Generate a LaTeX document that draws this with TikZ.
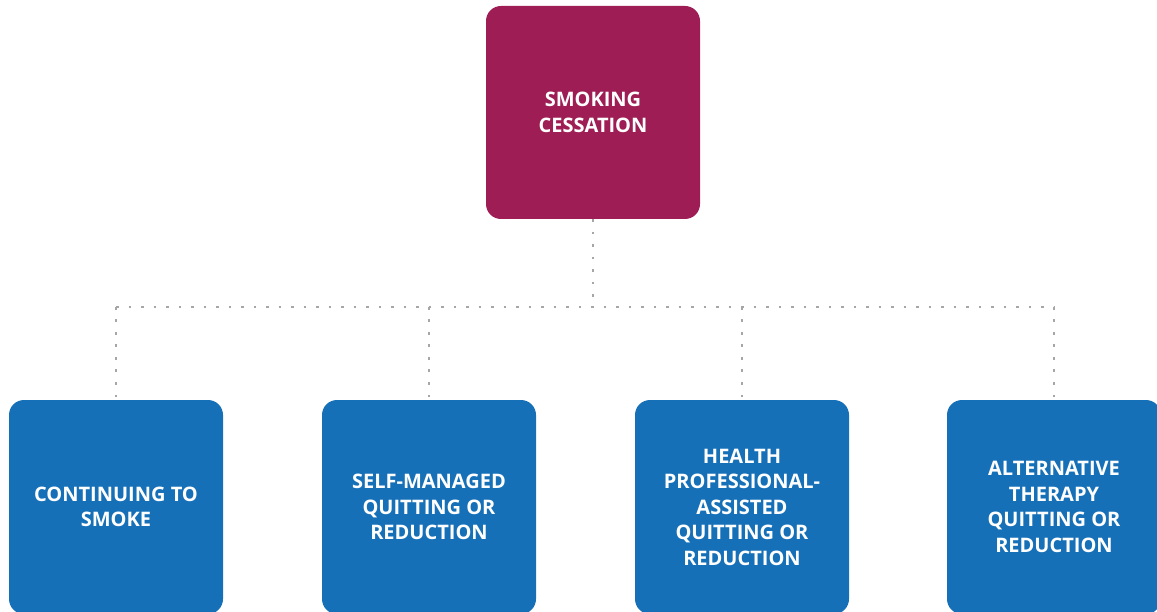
\documentclass[tikz,border=0pt]{standalone}
\usepackage{fontspec}
\setmainfont{Open Sans}
\begin{document}
\begin{tikzpicture}[x=1pt,y=-1pt,
  box/.style={rounded corners=15pt, text=white, inner sep=0pt,
    minimum width=214pt, minimum height=214pt,
    font=\bfseries\fontsize{20}{25.5}\selectfont, align=center},
  topbox/.style={box, fill=cessation, minimum height=213pt},
  leafbox/.style={box, fill=outcome},
  link/.style={draw=dotgray, line width=2.8pt, dash pattern=on 2.8pt off 9.7pt}
]
\definecolor{cessation}{HTML}{9E1D54}
\definecolor{outcome}{HTML}{1670B8}
\definecolor{dotgray}{HTML}{A6A6A6}
\useasboundingbox (0,0) rectangle (1157,612);

% root and the four outcomes
\node[topbox]  (top) at (593,112.5) {SMOKING\\CESSATION};
\node[leafbox] (a) at (116,507)  {CONTINUING TO\\SMOKE};
\node[leafbox] (b) at (429,507)  {SELF-MANAGED\\QUITTING OR\\REDUCTION};
\node[leafbox] (c) at (742,507)  {HEALTH\\PROFESSIONAL-\\ASSISTED\\QUITTING OR\\REDUCTION};
\node[leafbox] (d) at (1054,507) {ALTERNATIVE\\THERAPY\\QUITTING OR\\REDUCTION};

% dotted tree connectors
\coordinate (hub) at (593,307);
\coordinate (ja) at (116,307);
\coordinate (jb) at (429,307);
\coordinate (jc) at (742,307);
\coordinate (jd) at (1054,307);

\draw[link] (top.south) -- (hub);
\draw[link] (ja) -- (jd);
\draw[link] (ja) -- (a.north);
\draw[link] (jb) -- (b.north);
\draw[link] (jc) -- (c.north);
\draw[link] (jd) -- (d.north);
\end{tikzpicture}
\end{document}
